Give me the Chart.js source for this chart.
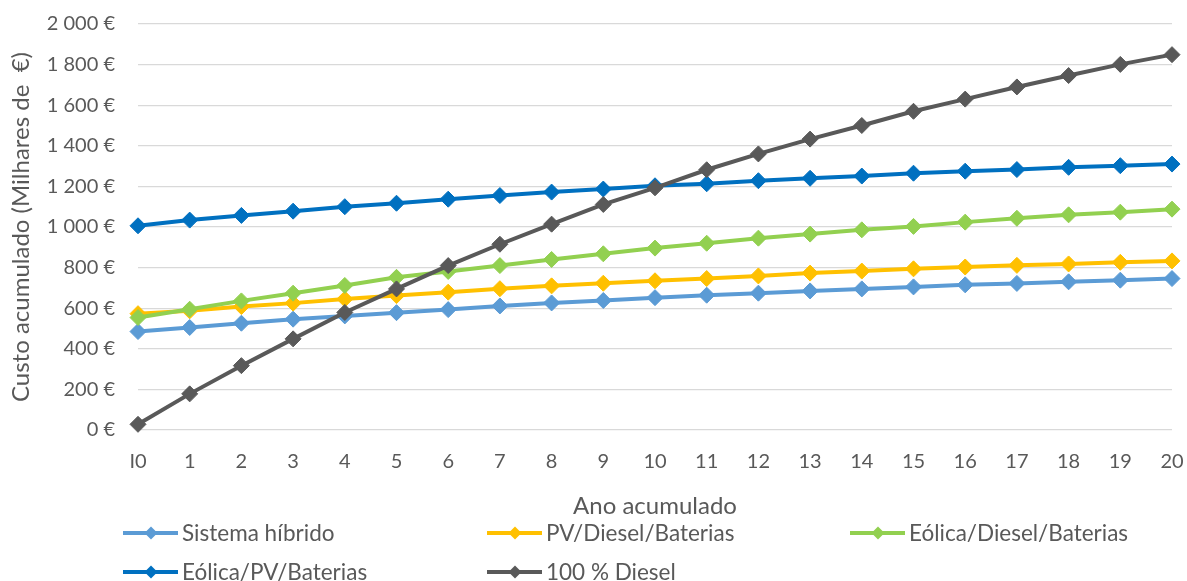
<!DOCTYPE html>
<html lang="pt">
<head>
<meta charset="utf-8">
<title>Custo acumulado</title>
<script src="https://cdn.jsdelivr.net/npm/chart.js@4/dist/chart.umd.min.js"></script>
<style>
  html, body { margin: 0; padding: 0; background: #ffffff; }
  #wrap { position: relative; width: 1187px; height: 581px; }
</style>
</head>
<body>
<div id="wrap"><canvas id="chart"></canvas></div>
<script>
// Anos (eixo horizontal)
const anos = ['I0', '1', '2', '3', '4', '5', '6', '7', '8', '9', '10',
              '11', '12', '13', '14', '15', '16', '17', '18', '19', '20'];

// Custo acumulado por configuração (milhares de €)
const sistemaHibrido = [485, 505, 526, 546, 562, 578, 593, 611, 626, 638, 652,
                        664, 674, 685, 695, 705, 715, 722, 730, 738, 746];
const pvDieselBaterias = [573, 587, 608, 625, 645, 662, 679, 696, 710, 723, 735,
                          746, 759, 773, 783, 794, 803, 811, 818, 826, 833];
const eolicaDieselBaterias = [554, 595, 636, 674, 712, 752, 781, 810, 840, 868, 896,
                              920, 945, 965, 986, 1003, 1024, 1043, 1060, 1073, 1088];
const eolicaPvBaterias = [1006, 1034, 1057, 1078, 1100, 1117, 1137, 1155, 1172, 1187, 1203,
                          1213, 1228, 1240, 1251, 1265, 1275, 1283, 1294, 1302, 1310];
const dieselTotal = [28, 178, 317, 449, 579, 695, 810, 915, 1014, 1111, 1193,
                     1282, 1360, 1433, 1500, 1570, 1630, 1690, 1746, 1801, 1849];

const nomesSeries = ['Sistema híbrido', 'PV/Diesel/Baterias', 'Eólica/Diesel/Baterias',
                     'Eólica/PV/Baterias', '100 % Diesel'];
const valoresSeries = [sistemaHibrido, pvDieselBaterias, eolicaDieselBaterias,
                       eolicaPvBaterias, dieselTotal];
const coresSeries = ['#5B9BD5', '#FFC000', '#92D050', '#0070C0', '#595959'];

const FONT = 'Lato, "Open Sans", sans-serif';
const TEXT = '#595959';

function formatEuro(v) {
  const s = String(Math.round(v)).replace(/\B(?=(\d{3})+(?!\d))/g, ' ');
  return s + ' €';
}

const datasets = valoresSeries.map((vals, i) => ({
  label: nomesSeries[i],
  data: vals,
  borderColor: coresSeries[i],
  backgroundColor: coresSeries[i],
  borderWidth: 4,
  tension: 0,
  pointStyle: 'rectRot',
  pointRadius: 8,
  pointHoverRadius: 8,
  pointBorderWidth: 1,
  pointBorderColor: coresSeries[i],
  pointBackgroundColor: coresSeries[i],
  clip: false,
  order: valoresSeries.length - i
}));

// Legenda em grelha de três colunas, desenhada no canvas
const legendaGrelha = {
  id: 'legendaGrelha',
  afterDraw(chart) {
    const ctx = chart.ctx;
    const colX = [123, 487, 850];
    const rowY = [533, 572];
    ctx.save();
    ctx.font = '22.5px ' + FONT;
    ctx.textBaseline = 'middle';
    ctx.textAlign = 'left';
    chart.data.datasets.forEach((ds, i) => {
      const x = colX[i % 3];
      const y = rowY[Math.floor(i / 3)];
      ctx.strokeStyle = ds.borderColor;
      ctx.lineWidth = 4;
      ctx.lineCap = 'butt';
      ctx.beginPath();
      ctx.moveTo(x, y);
      ctx.lineTo(x + 55, y);
      ctx.stroke();
      const cx = x + 28, r = 6.5;
      ctx.fillStyle = ds.borderColor;
      ctx.beginPath();
      ctx.moveTo(cx, y - r);
      ctx.lineTo(cx + r, y);
      ctx.lineTo(cx, y + r);
      ctx.lineTo(cx - r, y);
      ctx.closePath();
      ctx.fill();
      ctx.fillStyle = TEXT;
      ctx.fillText(ds.label, x + 59, y + 1);
    });
    ctx.restore();
  }
};

new Chart(document.getElementById('chart'), {
  type: 'line',
  data: { labels: anos, datasets },
  plugins: [legendaGrelha],
  options: {
    responsive: true,
    maintainAspectRatio: false,
    animation: false,
    events: [],
    layout: { padding: { top: 24, right: 15, bottom: 0, left: 0 } },
    plugins: {
      legend: { display: false },
      tooltip: { enabled: false }
    },
    scales: {
      x: {
        offset: false,
        grid: { display: false, drawTicks: false },
        border: { display: false },
        ticks: {
          color: TEXT,
          font: { family: FONT, size: 20 },
          padding: 20,
          maxRotation: 0,
          autoSkip: false
        },
        title: {
          display: true,
          text: 'Ano acumulado',
          color: TEXT,
          font: { family: FONT, size: 24 },
          padding: { top: 0, bottom: 60 }
        },
        afterFit(scale) {
          scale.height = 151;
          scale.paddingLeft = 0;
          scale.paddingRight = 0;
        }
      },
      y: {
        min: 0,
        max: 2000,
        grid: { color: '#D9D9D9', lineWidth: 1.3, drawTicks: false },
        border: { display: false },
        ticks: {
          stepSize: 200,
          color: TEXT,
          font: { family: FONT, size: 20 },
          padding: 23,
          callback: (v) => formatEuro(v)
        },
        title: {
          display: true,
          text: 'Custo acumulado (Milhares de  €)',
          color: TEXT,
          font: { family: FONT, size: 24 },
          padding: { top: 7, bottom: 0 }
        },
        afterFit(scale) {
          scale.width = 138;
          scale.paddingTop = 0;
          scale.paddingBottom = 0;
        }
      }
    }
  }
});
</script>
</body>
</html>
